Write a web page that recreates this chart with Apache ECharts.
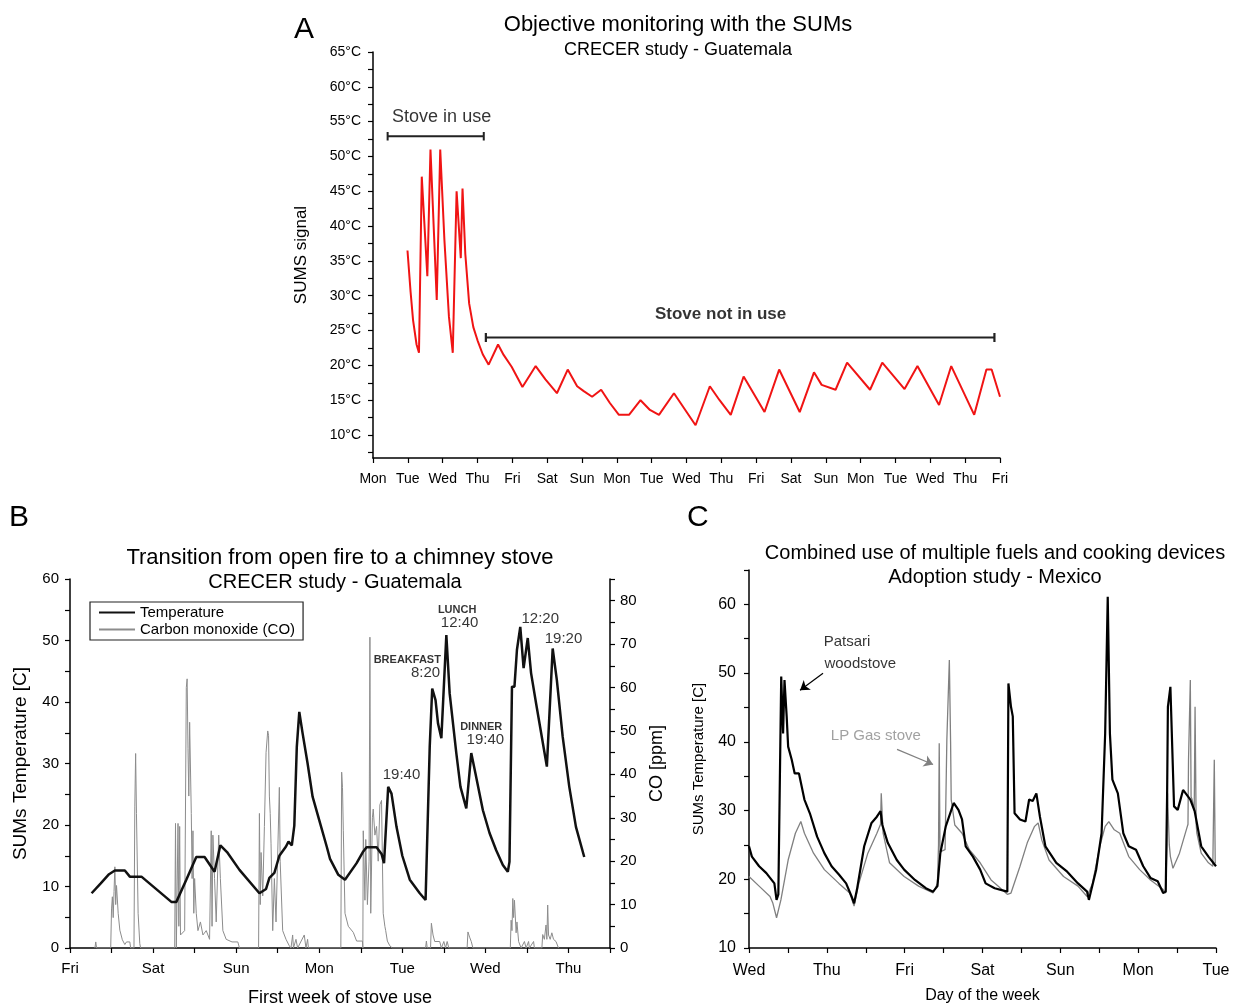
<!DOCTYPE html>
<html>
<head>
<meta charset="utf-8">
<script src="https://cdn.jsdelivr.net/npm/echarts@6.0.0/dist/echarts.min.js"></script>
<style>
html, body { margin: 0; padding: 0; background: #fff; }
#main { width: 1247px; height: 1005px; }
</style>
</head>
<body>
<div id="main"></div>
<script>
// ---- panel A : SUMs signal, stove in use / not in use (x = days from Monday)
var daysA = ['Mon','Tue','Wed','Thu','Fri','Sat','Sun','Mon','Tue','Wed','Thu','Fri','Sat','Sun','Mon','Tue','Wed','Thu','Fri'];
var sumsA = [
    [0.99,36.5],[1.08,30.5],[1.15,26.5],[1.25,23.0],[1.32,21.8],[1.40,47.1],[1.56,32.8],[1.65,51.0],
    [1.83,29.4],[1.93,51.0],[2.05,38.0],[2.18,27.0],[2.29,21.8],[2.40,45.0],[2.52,35.4],[2.57,45.4],
    [2.65,36.0],[2.76,28.9],[2.88,25.5],[3.00,23.6],[3.15,21.6],[3.32,20.1],[3.59,23.0],[3.75,21.5],
    [3.98,19.8],[4.29,16.9],[4.67,19.9],[4.95,18.0],[5.28,16.0],[5.59,19.4],[5.86,17.0],[6.05,16.3],
    [6.29,15.5],[6.55,16.5],[6.80,14.6],[7.06,12.9],[7.35,12.9],[7.68,15.0],[7.95,13.6],[8.21,12.9],
    [8.64,16.0],[9.26,11.4],[9.67,17.0],[9.95,15.0],[10.27,12.9],[10.64,18.4],[11.24,13.3],[11.66,19.4],
    [12.25,13.3],[12.66,19.0],[12.88,17.2],[13.28,16.5],[13.61,20.4],[14.27,16.5],[14.62,20.4],
    [15.26,16.6],[15.63,19.9],[16.25,14.3],[16.60,19.9],[17.26,12.9],[17.61,19.4],[17.76,19.4],[18.0,15.5]
];
var inUseA = [0.42, 3.18, 52.9];      // from day, to day, level
var notInUseA = [3.24, 17.84, 24.0];
var tempLabelsA = [10,15,20,25,30,35,40,45,50,55,60,65];
var tempTicksA = [7.5,10,12.5,15,17.5,20,22.5,25,27.5,30,32.5,35,37.5,40,42.5,45,47.5,50,52.5,55,57.5,60,62.5,65];
var notesA = [['Stove in use',1.97,55.7],['Stove not in use',9.98,27.4]];

// ---- panel B : first week of stove use (x = days from Friday)
var daysB = ['Fri','Sat','Sun','Mon','Tue','Wed','Thu'];
var tempB = [
    [0.26,8.9],[0.37,10.5],[0.47,12.0],[0.54,12.6],[0.66,12.6],[0.72,11.6],[0.86,11.6],[1.22,7.5],
    [1.28,7.5],[1.40,11.1],[1.52,14.8],[1.62,14.8],[1.74,12.4],[1.81,16.7],[1.89,15.6],[2.04,12.7],
    [2.28,8.9],[2.36,9.6],[2.40,11.4],[2.46,12.2],[2.52,15.0],[2.60,16.5],[2.63,17.3],[2.67,16.7],
    [2.70,19.9],[2.73,32.7],[2.76,38.4],[2.80,34.9],[2.86,30.0],[2.92,24.6],[3.00,20.8],[3.09,16.5],
    [3.13,14.5],[3.23,11.9],[3.31,11.1],[3.33,10.8],[3.45,13.8],[3.53,15.7],[3.57,16.4],[3.69,16.4],
    [3.75,15.3],[3.78,13.8],[3.83,26.2],[3.87,25.1],[3.93,19.7],[4.00,15.0],[4.09,11.1],[4.21,8.9],
    [4.28,7.8],[4.33,32.7],[4.36,42.2],[4.40,40.3],[4.43,36.5],[4.47,34.1],[4.53,50.9],[4.57,41.4],
    [4.65,31.7],[4.70,26.2],[4.77,22.7],[4.83,31.7],[4.88,28.4],[4.97,22.4],[5.05,18.7],[5.13,15.9],
    [5.21,13.5],[5.27,12.4],[5.29,14.0],[5.32,42.5],[5.35,42.5],[5.38,48.5],[5.42,52.2],[5.46,45.5],
    [5.51,50.4],[5.55,44.7],[5.61,39.8],[5.74,29.5],[5.81,48.7],[5.86,43.6],[5.93,34.4],[6.01,26.2],
    [6.09,19.7],[6.19,14.8]
];
var coB = [
    [0.30,0],[0.31,1.4],[0.32,0],[0.49,0],[0.50,9],[0.51,11.8],[0.52,7],[0.53,13],[0.54,18.7],[0.55,10],
    [0.56,14.4],[0.58,8.0],[0.60,4.1],[0.63,1.9],[0.66,0.8],[0.68,1.4],[0.72,1.4],[0.73,0],[0.77,0],
    [0.78,32.5],[0.79,44.8],[0.80,31],[0.82,8],[0.84,1],[0.85,0],[1.26,0],[1.27,28.7],[1.28,0],[1.29,0],
    [1.30,28.7],[1.31,5],[1.32,28],[1.33,3],[1.38,4],[1.40,60],[1.41,62],[1.42,46],[1.43,35],[1.44,52],
    [1.46,31],[1.47,16],[1.48,27],[1.49,8],[1.50,16],[1.52,8],[1.54,4],[1.57,6],[1.60,3],[1.64,4],
    [1.68,2],[1.70,27],[1.71,5],[1.72,26],[1.74,16],[1.76,6],[1.79,26],[1.81,16],[1.84,4],[1.88,2],
    [1.95,1.4],[2.02,1.4],[2.04,0],[2.27,0],[2.28,31],[2.29,10],[2.30,22],[2.32,12],[2.34,28],[2.36,45],
    [2.38,50],[2.39,49],[2.40,35],[2.41,31],[2.42,24],[2.44,4],[2.46,16],[2.48,6],[2.52,37],[2.53,20],
    [2.56,4],[2.60,2],[2.64,0.5],[2.66,0],[2.68,3],[2.69,0],[2.72,2],[2.74,0],[2.82,3],[2.84,0],
    [2.86,2],[2.87,0],[3.26,0],[3.27,40.5],[3.28,37],[3.29,27],[3.31,8],[3.35,5],[3.41,3.6],[3.45,1.6],
    [3.52,1.6],[3.525,0],[3.53,27],[3.55,11],[3.56,25],[3.58,10],[3.60,20],[3.61,71.6],[3.62,8],
    [3.64,30],[3.65,32],[3.67,26],[3.69,28],[3.71,20],[3.73,33],[3.75,34],[3.77,8],[3.79,5],[3.80,4],
    [3.82,1.6],[3.85,0.5],[3.88,0],[4.28,0],[4.29,1.6],[4.30,0],[4.34,0],[4.35,5.7],[4.37,3],[4.39,1.5],
    [4.45,1.5],[4.47,0],[4.50,1.5],[4.52,0],[4.54,1.5],[4.56,0],[4.78,0],[4.79,3.7],[4.81,2.5],[4.83,1.5],
    [4.85,0],[5.30,0],[5.31,6.4],[5.32,4],[5.33,11.4],[5.34,7],[5.35,11],[5.37,3.5],[5.38,6],[5.40,1.5],
    [5.43,0],[5.47,1.5],[5.49,0],[5.52,1.5],[5.53,0],[5.58,1.5],[5.59,0],[5.68,0],[5.69,3.1],[5.71,2],
    [5.73,5.3],[5.74,2],[5.75,9.9],[5.76,3],[5.78,2],[5.80,3.5],[5.82,2],[5.85,1.5],[5.88,0]
];
var notesB = [
    ['19:40',3.99,28.1],['BREAKFAST',4.06,46.8],['8:20',4.28,44.7],['LUNCH',4.66,55.0],['12:40',4.69,52.8],
    ['DINNER',4.95,35.9],['19:40',5.00,33.9],['12:20',5.66,53.6],['19:20',5.94,50.2]
];

// ---- panel C : multiple fuels (x = days from Wednesday)
var daysC = ['Wed','Thu','Fri','Sat','Sun','Mon','Tue'];
var patsariC = [
    [0,24.8],[0.037,23.3],[0.130,21.9],[0.223,20.9],[0.326,19.4],[0.354,17.0],[0.377,17.8],[0.414,49.5],
    [0.438,41.2],[0.456,49.0],[0.484,43.7],[0.503,39.3],[0.549,37.4],[0.587,35.4],[0.642,35.4],[0.712,31.6],
    [0.782,29.6],[0.875,26.2],[0.968,23.8],[1.061,21.9],[1.155,20.7],[1.248,19.4],[1.318,17.5],[1.350,16.5],
    [1.387,18.5],[1.480,24.8],[1.574,28.2],[1.643,29.1],[1.690,29.9],[1.713,27.9],[1.783,25.3],[1.899,22.8],
    [1.993,21.4],[2.132,19.9],[2.272,18.7],[2.365,18.2],[2.421,19.0],[2.458,23.8],[2.528,27.7],[2.630,31.1],
    [2.691,30.1],[2.737,28.7],[2.784,24.8],[2.877,23.3],[2.970,21.4],[3.040,19.4],[3.156,18.7],[3.319,18.2],
    [3.333,48.5],[3.366,45.1],[3.389,43.7],[3.412,29.6],[3.482,28.7],[3.552,28.4],[3.599,31.6],[3.645,31.4],
    [3.692,32.5],[3.738,29.1],[3.808,24.8],[3.948,22.4],[4.088,21.1],[4.227,19.4],[4.344,18.2],[4.367,17.0],
    [4.460,21.4],[4.530,26.7],[4.576,41.2],[4.609,61.1],[4.637,41.2],[4.669,34.5],[4.739,32.5],[4.809,26.7],
    [4.879,24.8],[4.972,24.3],[5.065,21.9],[5.158,20.2],[5.251,19.7],[5.321,18.0],[5.354,18.2],[5.372,32.5],
    [5.382,45.1],[5.400,45.1],[5.414,48.0],[5.428,48.0],[5.461,30.6],[5.508,30.1],[5.577,33.0],[5.670,31.6],
    [5.726,29.9],[5.810,24.8],[5.903,23.3],[6.0,21.9]
];
var gasC = [
    [0,20.4],[0.130,19.0],[0.270,17.5],[0.307,16.5],[0.354,14.4],[0.410,17.0],[0.503,22.8],[0.596,26.7],
    [0.666,28.4],[0.712,26.7],[0.829,23.8],[0.968,21.4],[1.155,19.4],[1.294,18.0],[1.350,16.1],[1.411,19.4],
    [1.527,23.8],[1.643,26.7],[1.690,28.0],[1.699,32.5],[1.723,26.7],[1.806,22.4],[1.993,20.4],[2.179,19.0],
    [2.365,18.0],[2.421,19.4],[2.435,25.0],[2.444,39.8],[2.454,24.0],[2.467,23.8],[2.519,24.3],[2.542,40.3],
    [2.574,51.9],[2.590,40.0],[2.598,31.6],[2.644,27.9],[2.737,26.7],[2.831,24.3],[2.970,22.4],[3.110,19.9],
    [3.203,19.0],[3.319,17.8],[3.366,18.0],[3.482,21.9],[3.575,25.3],[3.669,27.7],[3.715,28.2],[3.762,25.7],
    [3.855,22.8],[4.041,20.4],[4.227,19.0],[4.344,17.5],[4.413,19.4],[4.507,24.8],[4.576,27.7],[4.623,28.4],
    [4.693,27.2],[4.763,26.7],[4.879,23.3],[5.019,21.4],[5.158,19.9],[5.321,18.5],[5.354,18.0],[5.370,25.0],
    [5.377,32.5],[5.400,25.0],[5.414,23.3],[5.447,21.6],[5.531,23.8],[5.624,27.4],[5.640,28.0],[5.647,37.4],
    [5.670,49.0],[5.680,32.0],[5.693,31.6],[5.720,30.0],[5.731,45.1],[5.745,28.0],[5.754,26.7],[5.810,23.8],
    [5.903,22.4],[5.959,21.9],[5.970,22.0],[5.978,37.4],[5.990,22.4],[6.0,22.4]
];
var notesC = [['Patsari',1.26,54.6],['woodstove',1.43,51.4],['LP Gas stove',1.63,40.8]];
var arrowsC = [[0.951,49.97,0.656,47.5],[1.902,38.9,2.365,36.7]];   // from x,y -> to x,y

var FONT = '"Liberation Sans", Arial, sans-serif';

function axis(o) {
    var base = {
        type: 'value',
        axisLine: { show: true, onZero: false, lineStyle: { color: '#000', width: 1.5 } },
        axisTick: { show: true, length: 5, lineStyle: { color: '#000', width: 1.2 } },
        axisLabel: { color: '#000', fontFamily: FONT, fontSize: 15 },
        splitLine: { show: false },
        nameTextStyle: { color: '#000', fontFamily: FONT, fontSize: 18 },
        nameLocation: 'middle',
        nameMoveOverlap: false
    };
    return echarts.util.merge(base, o, true);
}
function everyTen(v) { return v % 10 === 0 ? String(v) : ''; }

function bracket(b, h) {
    return [[b[0], b[2] - h], [b[0], b[2] + h], [b[0], b[2]], [b[1], b[2]],
            [b[1], b[2] - h], [b[1], b[2] + h]];
}

function notes(xi, yi, list, styleOf) {
    return {
        type: 'scatter', xAxisIndex: xi, yAxisIndex: yi, symbolSize: 1, silent: true, z: 5,
        itemStyle: { color: 'transparent' },
        label: { show: true, position: 'inside', formatter: '{b}', color: '#000', fontFamily: FONT },
        data: list.map(function (n, i) {
            return { name: n[0], value: [n[1], n[2]], label: styleOf(n[0], i) };
        })
    };
}

function title(text, left, top, size, align) {
    return { text: text, left: left, top: top, padding: 0, textAlign: align,
             textStyle: { fontFamily: FONT, fontSize: size, fontWeight: 'normal', color: '#000' } };
}

var myChart = echarts.init(document.getElementById('main'));
option = {
    animation: false,
    backgroundColor: '#fff',
    title: [
        title('A', 294, 15, 30, 'left'),
        title('Objective monitoring with the SUMs', 678, 14, 22, 'center'),
        title('CRECER study - Guatemala', 678, 41, 18, 'center'),
        title('B', 9, 503, 30, 'left'),
        title('Transition from open fire to a chimney stove', 340, 547, 22, 'center'),
        title('CRECER study - Guatemala', 335, 572, 20, 'center'),
        title('C', 687, 503, 30, 'left'),
        title('Combined use of multiple fuels and cooking devices', 995, 543, 20, 'center'),
        title('Adoption study - Mexico', 995, 567, 20, 'center')
    ],
    legend: {
        data: ['Temperature', 'Carbon monoxide (CO)'],
        orient: 'vertical', left: 90, top: 602,
        borderColor: '#222', borderWidth: 1.2, padding: [3, 8, 3, 8],
        itemGap: 2, itemWidth: 36, itemHeight: 12,
        itemStyle: { opacity: 0 },
        textStyle: { fontFamily: FONT, fontSize: 15, color: '#000' }
    },
    grid: [
        { left: 373, top: 52, width: 627, height: 406, outerBoundsMode: 'none' },
        { left: 70, top: 579, width: 540, height: 369, outerBoundsMode: 'none' },
        { left: 749, top: 570, width: 467, height: 378, outerBoundsMode: 'none' }
    ],
    xAxis: [
        axis({ gridIndex: 0, min: 0, max: 18, interval: 1,
               axisLabel: { fontSize: 14, margin: 14, formatter: function (v) { return daysA[Math.round(v)] || ''; } } }),
        axis({ gridIndex: 1, min: 0, max: 6.5, interval: 0.5,
               name: 'First week of stove use', nameGap: 41,
               axisLabel: { margin: 13, formatter: function (v) { return v % 1 === 0 ? daysB[v] : ''; } } }),
        axis({ gridIndex: 2, min: 0, max: 6, interval: 0.5,
               name: 'Day of the week', nameGap: 40, nameTextStyle: { fontSize: 16 },
               axisLabel: { fontSize: 16, margin: 15, formatter: function (v) { return v % 1 === 0 ? daysC[v] : ''; } } })
    ],
    yAxis: [
        axis({ gridIndex: 0, min: 6.7, max: 65,
               name: 'SUMS signal', nameGap: 63, nameTextStyle: { fontSize: 17 },
               axisTick: { customValues: tempTicksA },
               axisLabel: { customValues: tempLabelsA, fontSize: 14, margin: 12, formatter: '{value}°C' } }),
        axis({ gridIndex: 1, min: 0, max: 60, interval: 5,
               name: 'SUMs Temperature [C]', nameGap: 40, nameTextStyle: { fontSize: 19 },
               axisLabel: { margin: 11, formatter: everyTen } }),
        axis({ gridIndex: 1, min: 0, max: 85, interval: 5, position: 'right',
               name: 'CO [ppm]', nameGap: 38,
               axisLabel: { margin: 10, formatter: everyTen } }),
        axis({ gridIndex: 2, min: 10, max: 65, interval: 5,
               name: 'SUMs Temperature [C]', nameGap: 43, nameTextStyle: { fontSize: 15 },
               axisLabel: { fontSize: 16, margin: 13, formatter: everyTen } })
    ],
    series: [
        { type: 'line', xAxisIndex: 0, yAxisIndex: 0, data: sumsA, symbol: 'none',
          lineStyle: { color: '#f01414', width: 2 } },
        { type: 'line', xAxisIndex: 0, yAxisIndex: 0, data: bracket(inUseA, 0.6), symbol: 'none',
          lineStyle: { color: '#222', width: 2 } },
        { type: 'line', xAxisIndex: 0, yAxisIndex: 0, data: bracket(notInUseA, 0.65), symbol: 'none',
          lineStyle: { color: '#222', width: 2.2 } },
        notes(0, 0, notesA, function (t, i) {
            return i === 0 ? { fontSize: 18, color: '#000' } : { fontSize: 17, fontWeight: 'bold', color: '#000' };
        }),

        { name: 'Carbon monoxide (CO)', type: 'line', xAxisIndex: 1, yAxisIndex: 2, data: coB,
          symbol: 'none', color: '#9a9a9a', lineStyle: { color: '#8c8c8c', width: 1 } },
        { name: 'Temperature', type: 'line', xAxisIndex: 1, yAxisIndex: 1, data: tempB,
          symbol: 'none', color: '#111', lineStyle: { color: '#111', width: 2.5 } },
        notes(1, 1, notesB, function (t) {
            return /[A-Z]{3}/.test(t) ? { fontSize: 11, fontWeight: 'bold', color: '#000' } : { fontSize: 15, color: '#000' };
        }),

        { type: 'line', xAxisIndex: 2, yAxisIndex: 3, data: gasC, symbol: 'none',
          lineStyle: { color: '#808080', width: 1.3 } },
        { type: 'line', xAxisIndex: 2, yAxisIndex: 3, data: patsariC, symbol: 'none',
          lineStyle: { color: '#000', width: 2.2 } },
        (function () {
            var s = notes(2, 3, notesC, function (t, i) {
                return i === 2 ? { fontSize: 15, color: '#8a8a8a' } : { fontSize: 15, color: '#000' };
            });
            s.markLine = {
                silent: true, symbol: ['none', 'arrow'], symbolSize: 9,
                label: { show: false },
                data: arrowsC.map(function (a, i) {
                    var c = i === 0 ? '#000' : '#808080';
                    return [{ coord: [a[0], a[1]], lineStyle: { color: c, width: 1.2, type: 'solid' } },
                            { coord: [a[2], a[3]] }];
                })
            };
            return s;
        })()
    ]
};
if (option && typeof option === 'object') {
    myChart.setOption(option, true);
}
</script>
</body>
</html>
